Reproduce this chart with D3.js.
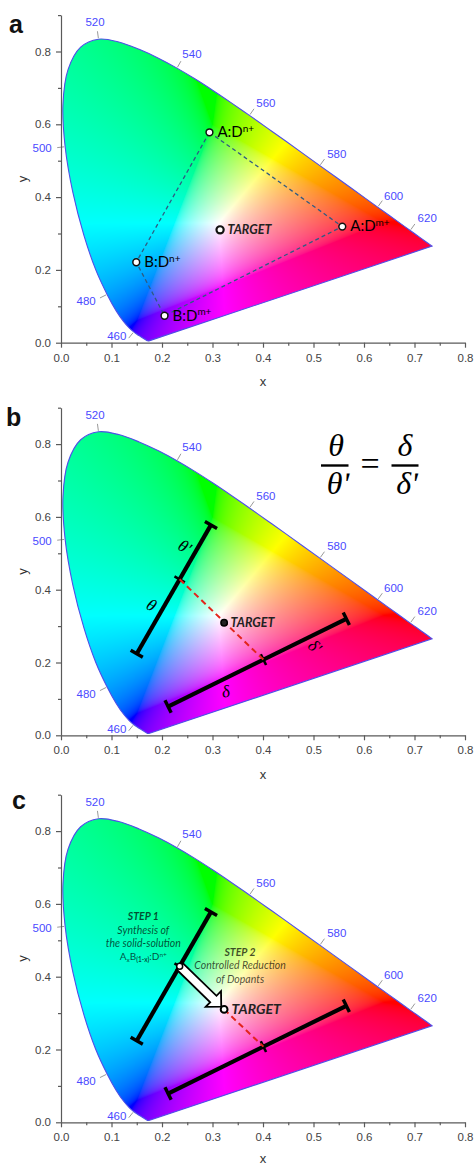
<!DOCTYPE html>
<html><head><meta charset="utf-8">
<script src="https://cdn.jsdelivr.net/npm/d3@7"></script>
<style>body{margin:0;background:#fff}svg{display:block}</style>
</head><body>
<svg id="chart" width="476" height="1165"></svg>
<script>
// ---------- DATA ----------
// CIE 1931 2-degree spectral locus (wavelength nm, chromaticity x, y)
const locusWL = [380,390,400,410,420,430,440,445,450,455,460,465,470,475,480,485,490,495,500,505,510,515,520,525,530,535,540,545,550,555,560,565,570,575,580,585,590,595,600,605,610,615,620,625,630,640,650,660,680,700];
const locusX = [0.1741,0.1738,0.1733,0.1726,0.1714,0.1689,0.1644,0.1611,0.1566,0.1510,0.1440,0.1355,0.1241,0.1096,0.0913,0.0687,0.0454,0.0235,0.0082,0.0039,0.0139,0.0389,0.0743,0.1142,0.1547,0.1929,0.2296,0.2658,0.3016,0.3373,0.3731,0.4087,0.4441,0.4788,0.5125,0.5448,0.5752,0.6029,0.6270,0.6482,0.6658,0.6801,0.6915,0.7006,0.7079,0.7190,0.7260,0.7300,0.7334,0.7347];
const locusY = [0.0050,0.0049,0.0048,0.0048,0.0051,0.0069,0.0109,0.0138,0.0177,0.0227,0.0297,0.0399,0.0578,0.0868,0.1327,0.2007,0.2950,0.4127,0.5384,0.6548,0.7502,0.8120,0.8338,0.8262,0.8059,0.7816,0.7543,0.7243,0.6923,0.6589,0.6245,0.5896,0.5547,0.5202,0.4866,0.4544,0.4242,0.3965,0.3725,0.3514,0.3340,0.3197,0.3083,0.2993,0.2920,0.2809,0.2740,0.2700,0.2666,0.2653];
const wlLabels = [460,480,500,520,540,560,580,600,620];

const xTicks = [0,0.1,0.2,0.3,0.4,0.5,0.6,0.7,0.8];
const xMinor = [0.05,0.15,0.25,0.35,0.45,0.55,0.65,0.75];
const yTicks = [0,0.2,0.4,0.6,0.8];
const yMinor = [0.1,0.3,0.5,0.7,0.9];
const panelLetters = ["a","b","c"];

// panel a : dopant points (polygon order)
const pointBase = ["A:D","A:D","B:D","B:D"];
const pointSup  = ["n+","m+","m+","n+"];
const pointX = [0.294,0.557,0.205,0.149];
const pointY = [0.578,0.319,0.074,0.221];
// TARGET per panel
const targetX = [0.315,0.323,0.323];
const targetY = [0.310,0.309,0.310];
// panels b, c : lever bars
const thetaBar = [[0.150,0.224],[0.297,0.578]];
const deltaBar = [[0.212,0.079],[0.565,0.320]];
const splitFrac = [0.578,0.535];

// ---------- LAYOUT ----------
const panelY0 = [342.7, 735.3, 1122.3];
const PH = 327.6;
const svg = d3.select("#chart");
const x = d3.scaleLinear().domain([0,0.8]).range([61,465]);
const y = d3.scaleLinear().domain([0,0.9]).range([PH,0]);
const SANS = "'Liberation Sans', Arial, sans-serif";
const LABF = "Lato, 'Open Sans', sans-serif";
const SERIF = "'Liberation Serif', 'DejaVu Serif', serif";

// ---------- chromaticity fill (canvas) ----------
function xyToRGB(cx, cy){
  if (cy < 1e-4) cy = 1e-4;
  const X = cx/cy, Y = 1, Z = (1-cx-cy)/cy;
  let r =  3.2406*X - 1.5372*Y - 0.4986*Z;
  let g = -0.9689*X + 1.8758*Y + 0.0415*Z;
  let b =  0.0557*X - 0.2040*Y + 1.0570*Z;
  const mn = Math.min(r,g,b);
  if (mn < 0){ r -= mn*0.5; g -= mn*0.5; b -= mn*0.5; }
  r = Math.max(r,0); g = Math.max(g,0); b = Math.max(b,0);
  const m = Math.max(r,g,b) || 1;
  const gam = v => v <= 0.0031308 ? 12.92*v : 1.055*Math.pow(v,1/2.4) - 0.055;
  return [gam(r/m)*255, gam(g/m)*255, gam(b/m)*255];
}
const cw = 404, ch = Math.ceil(PH);
const canvas = document.createElement("canvas");
canvas.width = cw; canvas.height = ch;
const ctx = canvas.getContext("2d");
const img = ctx.createImageData(cw, ch);
for (let j=0;j<ch;j++){
  const cy = y.invert(j+0.5);
  for (let i=0;i<cw;i++){
    const cx = x.invert(61+i+0.5);
    const c = xyToRGB(cx, cy);
    const k = (j*cw+i)*4;
    img.data[k]=c[0]; img.data[k+1]=c[1]; img.data[k+2]=c[2]; img.data[k+3]=255;
  }
}
ctx.putImageData(img,0,0);
const dataURL = canvas.toDataURL();

const locusPts = locusWL.map((w,i)=>[x(locusX[i]), y(locusY[i])]);
const locusLine = d3.line().curve(d3.curveCatmullRom)(locusPts) + "Z";

const defs = svg.append("defs");
defs.append("clipPath").attr("id","locusClip").attr("clipPathUnits","userSpaceOnUse")
  .append("path").attr("d", locusLine);

function locusNormal(w){
  const i = locusWL.indexOf(w);
  const a = locusPts[i-1], b = locusPts[i+1];
  const dx=b[0]-a[0], dy=b[1]-a[1], L=Math.hypot(dx,dy);
  return [dy/L, -dx/L];
}
// label offsets (pixels) from locus point
const wlOffset = {460:[-17,4],480:[-21,6.5],500:[-23,1.7],520:[-3.5,-17],540:[15,-14],560:[16.5,-12],580:[17,-12],600:[16,-11.5],620:[17,-12]};

function drawPanel(p){
  const g = svg.append("g").attr("transform", `translate(0,${panelY0[p]-PH})`);
  g.append("image").attr("href", dataURL).attr("x",61).attr("y",0)
    .attr("width",cw).attr("height",ch).attr("preserveAspectRatio","none")
    .attr("clip-path","url(#locusClip)");
  g.append("path").attr("d", locusLine).attr("fill","none")
    .attr("stroke","#4f4fe8").attr("stroke-width",1.1);
  wlLabels.forEach(w=>{
    const i = locusWL.indexOf(w);
    const pt = locusPts[i], n = locusNormal(w), off = wlOffset[w];
    g.append("line").attr("x1",pt[0]+n[0]*1).attr("y1",pt[1]+n[1]*1)
      .attr("x2",pt[0]+n[0]*8).attr("y2",pt[1]+n[1]*8)
      .attr("stroke","#9a9a9a").attr("stroke-width",1);
    g.append("text").attr("x",pt[0]+off[0]).attr("y",pt[1]+off[1]).attr("dy","0.35em")
      .attr("text-anchor","middle").attr("font-family",SANS).attr("font-size",11.5)
      .attr("fill","#4a4aff").text(w);
  });
  const ax = g.append("g").attr("transform",`translate(0,${PH})`)
    .call(d3.axisBottom(x).tickValues(xTicks).tickFormat(d3.format(".1f")).tickSize(5).tickSizeOuter(0).tickPadding(6));
  const axm = g.append("g").attr("transform",`translate(0,${PH})`)
    .call(d3.axisBottom(x).tickValues(xMinor).tickFormat("").tickSize(3).tickSizeOuter(0));
  axm.select(".domain").remove();
  const ay = g.append("g").attr("transform",`translate(61,0)`)
    .call(d3.axisLeft(y).tickValues(yTicks).tickFormat(d3.format(".1f")).tickSize(5).tickSizeOuter(0).tickPadding(5));
  const aym = g.append("g").attr("transform",`translate(61,0)`)
    .call(d3.axisLeft(y).tickValues(yMinor).tickFormat("").tickSize(3).tickSizeOuter(0));
  aym.select(".domain").remove();
  [ax,axm,ay,aym].forEach(a=>{
    a.selectAll("path,line").attr("stroke","#5a5a5a").attr("stroke-width",1.2);
    a.selectAll("text").attr("font-family",SANS).attr("font-size",11.5).attr("fill","#444");
  });
  g.append("text").attr("x",x(0.4)).attr("y",PH+(p===2?41:43.5)).attr("text-anchor","middle")
    .attr("font-family",SANS).attr("font-size",13).attr("fill","#333").text("x");
  g.append("text").attr("transform",`translate(27,${y(0.45)}) rotate(-90)`).attr("text-anchor","middle")
    .attr("font-family",SANS).attr("font-size",13).attr("fill","#333").text("y");
  g.append("text").attr("x",[9,6,12][p]).attr("y",PH-[310,309.5,313.5][p])
    .attr("font-family",SANS).attr("font-weight","bold").attr("font-size",25).attr("fill","#111")
    .text(panelLetters[p]);
  return g;
}

function drawBar(g, bar, frac){
  const p0=[x(bar[0][0]),y(bar[0][1])], p1=[x(bar[1][0]),y(bar[1][1])];
  const dx=p1[0]-p0[0], dy=p1[1]-p0[1], L=Math.hypot(dx,dy);
  const u=[dx/L,dy/L], n=[-u[1],u[0]];
  const mid=[p0[0]+u[0]*L*frac, p0[1]+u[1]*L*frac];
  g.append("line").attr("x1",p0[0]).attr("y1",p0[1]).attr("x2",p1[0]).attr("y2",p1[1])
    .attr("stroke","#000").attr("stroke-width",4.2);
  [p0,p1].forEach(q=>{
    g.append("line").attr("x1",q[0]-n[0]*7).attr("y1",q[1]-n[1]*7)
      .attr("x2",q[0]+n[0]*7).attr("y2",q[1]+n[1]*7)
      .attr("stroke","#000").attr("stroke-width",3.4);
  });
  g.append("line").attr("x1",mid[0]-n[0]*6).attr("y1",mid[1]-n[1]*6)
    .attr("x2",mid[0]+n[0]*6).attr("y2",mid[1]+n[1]*6)
    .attr("stroke","#000").attr("stroke-width",2.6);
  return {p0,p1,u,n,L,mid};
}
function redDash(g,a,b){
  g.append("line").attr("x1",a[0]).attr("y1",a[1]).attr("x2",b[0]).attr("y2",b[1])
    .attr("stroke","#e3241b").attr("stroke-width",2).attr("stroke-dasharray","6,4");
}

// ---------- Panel a ----------
const ga = drawPanel(0);
const polyPts = pointX.map((v,i)=>[x(v), y(pointY[i])]);
ga.append("path").attr("d", d3.line()(polyPts)+"Z").attr("fill","none")
  .attr("stroke","#2f5b82").attr("stroke-width",1.3).attr("stroke-dasharray","4,3");
polyPts.forEach((q,i)=>{
  ga.append("circle").attr("cx",q[0]).attr("cy",q[1]).attr("r",3.4)
    .attr("fill","#fff").attr("stroke","#111").attr("stroke-width",1.5);
  const t = ga.append("text").attr("x",q[0]+8).attr("y",q[1]+4.8)
    .attr("font-family",LABF).attr("font-size",15).attr("fill","#000");
  t.append("tspan").text(pointBase[i]);
  t.append("tspan").attr("dy",-5.5).attr("font-size",10).text(pointSup[i]);
});
{
  const tx=x(targetX[0]), ty=y(targetY[0]);
  ga.append("circle").attr("cx",tx).attr("cy",ty).attr("r",3.6)
    .attr("fill","#fff").attr("stroke","#111").attr("stroke-width",2.2);
  ga.append("text").attr("x",tx+7.5).attr("y",ty+4.3).attr("font-family",LABF)
    .attr("font-weight","bold").attr("font-style","italic").attr("font-size",12.5)
    .attr("fill","#222").text("TARGET");
}

// ---------- Panel b ----------
const gb = drawPanel(1);
{
  const th = drawBar(gb, thetaBar, splitFrac[0]);
  const de = drawBar(gb, deltaBar, splitFrac[1]);
  redDash(gb, th.mid, de.mid);
  const tx=x(targetX[1]), ty=y(targetY[1]);
  gb.append("circle").attr("cx",tx).attr("cy",ty).attr("r",3.2)
    .attr("fill","#222").attr("stroke","#000").attr("stroke-width",1.5);
  gb.append("text").attr("x",tx+6.5).attr("y",ty+4.3).attr("font-family",LABF)
    .attr("font-weight","bold").attr("font-style","italic").attr("font-size",12.5)
    .attr("fill","#222").text("TARGET");
  const greek = [
    {bar:th, f:0.334, off:-11.5, txt:"θ", rot:30},
    {bar:th, f:0.786, off:-11.8, txt:"θ'", rot:30},
    {bar:de, f:0.294, off:11.7, txt:"δ", rot:-10},
    {bar:de, f:0.797, off:11.0, txt:"δ'", rot:40}
  ];
  greek.forEach(d=>{
    const b=d.bar;
    const px=b.p0[0]+b.u[0]*b.L*d.f + b.n[0]*d.off;
    const py=b.p0[1]+b.u[1]*b.L*d.f + b.n[1]*d.off;
    gb.append("text").attr("transform",`translate(${px},${py}) rotate(${d.rot})`)
      .attr("text-anchor","middle").attr("dy","0.35em").attr("font-family",SERIF)
      .attr("font-style","italic").attr("font-size",17).attr("fill","#000").text(d.txt);
  });
  const eq = gb.append("g").attr("transform",`translate(0,${-(panelY0[1]-PH)})`);
  const eqT = (tx,ty,s)=>eq.append("text").attr("x",tx).attr("y",ty).attr("text-anchor","middle")
    .attr("font-family",SERIF).attr("font-style","italic").attr("font-size",32).attr("fill","#000").text(s);
  eqT(336,456,"θ"); eqT(338,494,"θʹ"); eqT(405,456,"δ"); eqT(407,494,"δʹ");
  eq.append("text").attr("x",370).attr("y",475).attr("text-anchor","middle")
    .attr("font-family",SERIF).attr("font-size",34).attr("fill","#000").text("=");
  eq.append("line").attr("x1",321).attr("x2",348.5).attr("y1",465.5).attr("y2",465.5).attr("stroke","#000").attr("stroke-width",2.4);
  eq.append("line").attr("x1",391.5).attr("x2",418.5).attr("y1",465.5).attr("y2",465.5).attr("stroke","#000").attr("stroke-width",2.4);
}

// ---------- Panel c ----------
const gc = drawPanel(2);
{
  const th = drawBar(gc, thetaBar, splitFrac[0]);
  const de = drawBar(gc, deltaBar, splitFrac[1]);
  const tx=x(targetX[2]), ty=y(targetY[2]);
  redDash(gc, [tx,ty], de.mid);
  const s = th.mid;
  const dx=tx-s[0], dy=ty-s[1], L=Math.hypot(dx,dy);
  const u=[dx/L,dy/L], n=[-u[1],u[0]];
  const tipL = L-4, headL = 11, sw = 4.5, hw = 11;
  const P = (a,b)=>[s[0]+u[0]*a+n[0]*b, s[1]+u[1]*a+n[1]*b];
  const arrowPts=[P(0,-sw),P(tipL-headL,-sw),P(tipL-headL,-hw),P(tipL,0),P(tipL-headL,hw),P(tipL-headL,sw),P(0,sw)];
  gc.append("path").attr("d", d3.line()(arrowPts)+"Z").attr("fill","#fff")
    .attr("stroke","#000").attr("stroke-width",1.8).attr("stroke-linejoin","miter");
  gc.append("circle").attr("cx",s[0]).attr("cy",s[1]).attr("r",3)
    .attr("fill","#fff").attr("stroke","#000").attr("stroke-width",1.5);
  gc.append("circle").attr("cx",tx).attr("cy",ty).attr("r",3.4)
    .attr("fill","#fff").attr("stroke","#000").attr("stroke-width",2);
  gc.append("text").attr("x",tx+7.5).attr("y",ty+5).attr("font-family",LABF)
    .attr("font-weight","bold").attr("font-style","italic").attr("font-size",14)
    .attr("fill","#222").text("TARGET");
  const ann = [
    {x:0.163,y:0.565,t:"STEP 1",b:true},
    {x:0.163,y:0.5275,t:"Synthesis of"},
    {x:0.163,y:0.4926,t:"the solid-solution"},
    {x:0.3545,y:0.466,t:"STEP 2",b:true},
    {x:0.3545,y:0.430,t:"Controlled Reduction"},
    {x:0.3545,y:0.394,t:"of Dopants"}
  ];
  ann.forEach(a=>{
    gc.append("text").attr("x",x(a.x)).attr("y",y(a.y)).attr("dy","0.35em")
      .attr("text-anchor","middle").attr("font-family",LABF).attr("font-style","italic")
      .attr("font-weight",a.b?"bold":"normal").attr("font-size",10.5)
      .attr("fill","#000").attr("fill-opacity",0.7).text(a.t);
  });
  const f = gc.append("text").attr("x",x(0.163)).attr("y",y(0.455)).attr("dy","0.35em")
    .attr("text-anchor","middle").attr("font-family",LABF).attr("font-size",10)
    .attr("fill","#000").attr("fill-opacity",0.7);
  f.append("tspan").text("A");
  f.append("tspan").attr("font-size",6.5).attr("dy",2).text("x");
  f.append("tspan").attr("dy",-2).text("B");
  f.append("tspan").attr("font-size",6.5).attr("font-weight","bold").attr("dy",2).text("(1-x)");
  f.append("tspan").attr("dy",-2).text(":D");
  f.append("tspan").attr("font-size",6.5).attr("dy",-3.5).text("n+");
}
</script>
</body></html>
